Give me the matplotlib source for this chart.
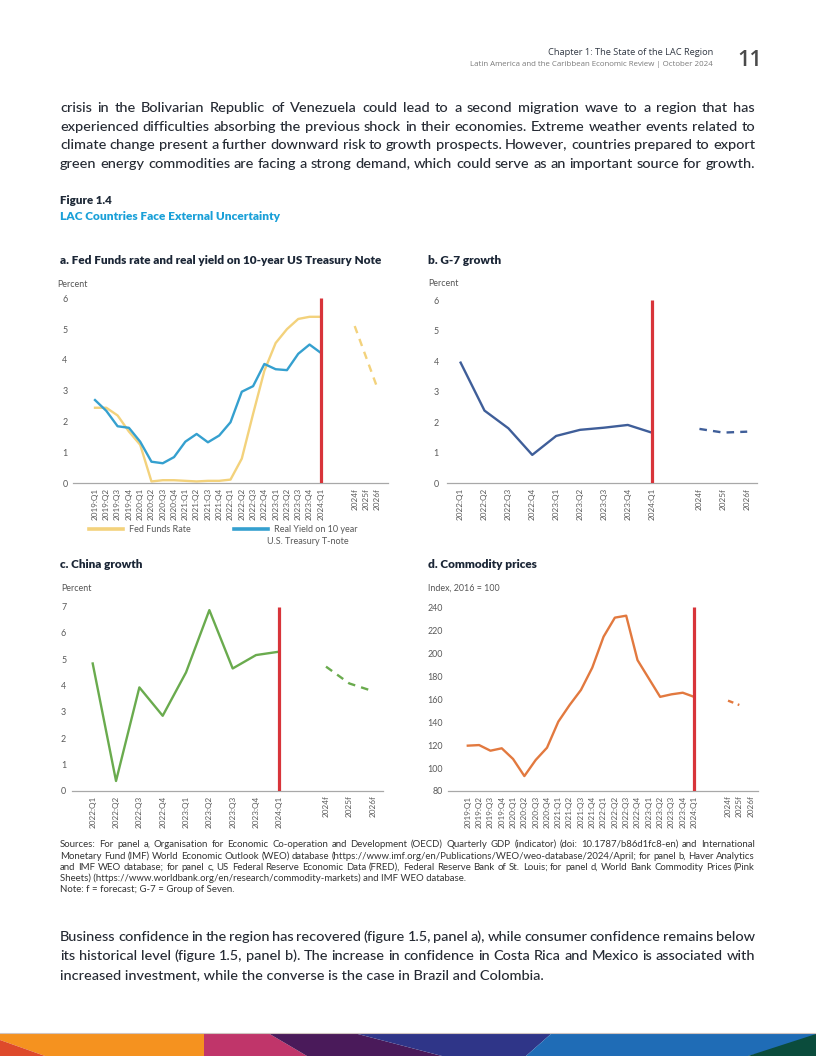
import math
import matplotlib
matplotlib.use('Agg')
import matplotlib.pyplot as plt
from matplotlib.patches import Polygon
from matplotlib.font_manager import FontProperties
import numpy as np

# ---------------- data ----------------
quarters_long = ["2019:Q1", "2019:Q2", "2019:Q3", "2019:Q4", "2020:Q1", "2020:Q2", "2020:Q3",
                 "2020:Q4", "2021:Q1", "2021:Q2", "2021:Q3", "2021:Q4", "2022:Q1", "2022:Q2",
                 "2022:Q3", "2022:Q4", "2023:Q1", "2023:Q2", "2023:Q3", "2023:Q4", "2024:Q1"]
quarters_short = ["2022:Q1", "2022:Q2", "2022:Q3", "2022:Q4", "2023:Q1", "2023:Q2", "2023:Q3",
                  "2023:Q4", "2024:Q1"]
forecast_years = ["2024f", "2025f", "2026f"]

fed_funds = [2.45, 2.45, 2.2, 1.68, 1.25, 0.06, 0.1, 0.1, 0.08, 0.06, 0.08, 0.08, 0.12, 0.8,
             2.25, 3.65, 4.55, 5.0, 5.33, 5.4, 5.4]
fed_funds_fc = [5.1, 4.1, 3.1]
real_yield = [2.7, 2.35, 1.85, 1.8, 1.35, 0.7, 0.65, 0.85, 1.35, 1.6, 1.33, 1.55, 1.98, 2.97,
              3.15, 3.87, 3.7, 3.67, 4.2, 4.5, 4.23]

g7_growth = [3.95, 2.38, 1.8, 0.93, 1.55, 1.75, 1.82, 1.91, 1.66]
g7_growth_fc = [1.78, 1.66, 1.69]

china_growth = [4.84, 0.37, 3.93, 2.85, 4.5, 6.87, 4.65, 5.16, 5.29]
china_growth_fc = [4.72, 4.08, 3.79]

commodity = [119.5, 120.0, 115.1, 117.2, 107.9, 93.0, 107.0, 117.7, 140.4, 154.9, 168.0, 187.4,
             214.4, 231.0, 232.7, 194.0, 178.0, 162.0, 164.2, 165.6, 162.0]
commodity_fc = [158.7, 154.9, np.nan]

# ---------------- page text ----------------
para_top = [
    "crisis in the Bolivarian Republic of Venezuela could lead to a second migration wave to a region that has",
    "experienced difficulties absorbing the previous shock in their economies. Extreme weather events related to",
    "climate change present a further downward risk to growth prospects. However, countries prepared to export",
    "green energy commodities are facing a strong demand, which could serve as an important source for growth.",
]
para_bottom = [
    "Business confidence in the region has recovered (figure 1.5, panel a), while consumer confidence remains below",
    "its historical level (figure 1.5, panel b). The increase in confidence in Costa Rica and Mexico is associated with",
    "increased investment, while the converse is the case in Brazil and Colombia.",
]
sources = [
    "Sources: For panel a, Organisation for Economic Co-operation and Development (OECD) Quarterly GDP (indicator) (doi: 10.1787/b86d1fc8-en)  and International",
    "Monetary Fund (IMF) World Economic Outlook (WEO) database (https://www.imf.org/en/Publications/WEO/weo-database/2024/April; for panel b, Haver Analytics",
    "and IMF WEO database; for panel c, US Federal Reserve Economic Data (FRED), Federal Reserve Bank of St. Louis; for panel d, World Bank Commodity Prices (Pink",
    "Sheets) (https://www.worldbank.org/en/research/commodity-markets) and IMF WEO database.",
    "Note: f = forecast; G-7 = Group of Seven.",
]

# ---------------- setup ----------------
W, H, DPI = 816, 1056, 100
FONT = 'Lato'
FAMILY = [FONT, 'DejaVu Sans']
plt.rcParams['font.family'] = FAMILY
fig = plt.figure(figsize=(W / DPI, H / DPI), dpi=DPI)
fig.patch.set_facecolor('white')
renderer = fig.canvas.get_renderer()

try:
    from matplotlib.backends.backend_agg import get_hinting_flag
except Exception:  # pragma: no cover
    get_hinting_flag = None


def fx(x):
    return x / W


def fy(y):
    return 1 - y / H


def width_of(t):
    return t.get_window_extent(renderer).width


def put(x, y, s, size, target_w=None, ha='left', va='center', **kw):
    t = fig.text(fx(x), fy(y), s, fontsize=size, ha=ha, va=va, **kw)
    if target_w:
        t.set_fontsize(size * target_w / width_of(t))
    return t


def fit_size(s, target_w, **kw):
    t = fig.text(0, 0, s, fontsize=10, **kw)
    w = width_of(t)
    t.remove()
    return 10 * target_w / w


def baseline_y(y, size):
    # y given as the centre of the x-height; convert to the baseline (pixels, y down)
    return y + 0.255 * size * DPI / 72


def snapped_baseline(word, target, size, weight):
    """Anchor so that the rasterised baseline of `word` lands exactly on pixel row `target`."""
    try:
        fp = FontProperties(family=FAMILY, size=size, weight=weight)
        font = renderer._prepare_font(fp)
        font.set_text(word, 0, flags=get_hinting_flag())
        d = font.get_descent() / 64.0
        _, hh = font.get_width_height()
        a = hh / 64.0 - d
        return target + math.floor(a + d) - math.floor(a) - d
    except Exception:
        return target


def justify(line, x0, x1, y, size, weight='normal', **kw):
    words = line.split()
    target = round(baseline_y(y, size))
    ts = []
    for w in words:
        yb = snapped_baseline(w, target, size, weight)
        ts.append(fig.text(0, fy(yb), w, fontsize=size, va='baseline', ha='left',
                           weight=weight, **kw))
    ws = [width_of(t) for t in ts]
    gap = (x1 - x0 - sum(ws)) / (len(words) - 1)
    x = x0
    for t, w in zip(ts, ws):
        t.set_x(fx(x))
        x += w + gap


def plain(line, x0, y, size, weight='normal', **kw):
    return fig.text(fx(x0), fy(baseline_y(y, size)), line, fontsize=size, va='baseline',
                    ha='left', weight=weight, **kw)


BODY = '#252a33'
# ---------------- header ----------------
put(713, 52.5, "Chapter 1: The State of the LAC Region", 7, target_w=166, ha='right',
    color='#333a45', family='Open Sans')
put(713, 65, "Latin America and the Caribbean Economic Review | October 2024", 6, target_w=246,
    ha='right', color='#7a7a7a', family='Open Sans')
put(737, 60, "11", 15.5, ha='left', color='#4a4a4a', family='Open Sans', weight='semibold')

# ---------------- paragraphs ----------------
body_size = 0.995 * fit_size(para_bottom[2], 486, weight='medium')
for i, line in enumerate(para_top):
    justify(line, 60, 755, 108 + i * 18.9, body_size, weight='medium', color=BODY)
for i, line in enumerate(para_bottom):
    if i < 2:
        justify(line, 60, 755, 937 + i * 19.2, body_size, weight='medium', color=BODY)
    else:
        plain(line, 60, 937 + i * 19.2, body_size, weight='medium', color=BODY)

put(60, 201, "Figure 1.4", 8, target_w=52, color='#1f2a38', weight='heavy')
put(60, 216.5, "LAC Countries Face External Uncertainty", 8, target_w=221, color='#1aa0d8',
    weight='heavy')

src_size = fit_size(sources[3], 410)
for i, line in enumerate(sources):
    y = 845 + i * 11.2
    if i < 3:
        justify(line, 60, 755, y, src_size, color='#333333')
    else:
        plain(line, 60, y, src_size, color='#333333')

# ---------------- panels ----------------
TITLE = '#1b2636'
title_a = "a. Fed Funds rate and real yield on 10-year US Treasury Note"
title_size = fit_size(title_a, 323, weight='heavy')
put(60.5, 261, title_a, title_size, color=TITLE, weight='heavy')
put(428, 261, "b. G-7 growth", title_size, color=TITLE, weight='heavy')
put(60.5, 565, "c. China growth", title_size, color=TITLE, weight='heavy')
put(428, 565, "d. Commodity prices", title_size, color=TITLE, weight='heavy')

unit_size = fit_size("Percent", 30.5)
put(57, 284.5, "Percent", unit_size, color='#555555')
put(428, 283.5, "Percent", unit_size, color='#555555')
put(61.5, 588.5, "Percent", unit_size, color='#555555')
put(427.5, 588.5, "Index, 2016 = 100", unit_size, color='#555555')

RED = '#d8343a'
GRAY = '#595959'


def make_axes(x0, x1, ytop, ybot, xlim, ylim, yticks, labels, ypad=4):
    ax = fig.add_axes([fx(x0), fy(ybot), (x1 - x0) / W, (ybot - ytop) / H])
    ax.set_xlim(*xlim)
    ax.set_ylim(*ylim)
    for s in ('top', 'right', 'left'):
        ax.spines[s].set_visible(False)
    ax.spines['bottom'].set_color('#a8a8a8')
    ax.spines['bottom'].set_linewidth(0.9)
    ax.set_yticks(yticks)
    ax.set_xticks(range(len(labels)))
    ax.set_xticklabels(labels, rotation=90)
    ax.tick_params(axis='both', length=0, colors=GRAY)
    ax.tick_params(axis='x', pad=3.3, labelsize=5.9)
    ax.tick_params(axis='y', pad=ypad, labelsize=6.4)
    ax.patch.set_alpha(0)
    return ax


labels_long = quarters_long + ["", ""] + forecast_years
labels_short = quarters_short + [""] + forecast_years
idx_long = np.arange(len(quarters_long))
fc_long = np.arange(len(quarters_long) + 2, len(quarters_long) + 2 + len(forecast_years))
idx_short = np.arange(len(quarters_short))
fc_short = np.arange(len(quarters_short) + 1, len(quarters_short) + 1 + len(forecast_years))

LW = 1.7
DASH = (0, (3.2, 2.6))

# panel a
YEL = '#f3d27c'
BLU = '#35a0cf'
axa = make_axes(73, 388, 298.3, 483.3, (-1.95, 25.95), (0, 6), range(0, 7), labels_long)
l_ff, = axa.plot(idx_long, fed_funds, color=YEL, lw=LW, solid_joinstyle='round')
axa.plot(fc_long, fed_funds_fc, color=YEL, lw=LW, linestyle=DASH)
l_ry, = axa.plot(idx_long, real_yield, color=BLU, lw=LW, solid_joinstyle='round')
axa.vlines(idx_long[-1], 0, 6, color=RED, lw=2.3, zorder=5)

leg_size = fit_size("Fed Funds Rate", 62)
leg_kw = dict(loc='center left', bbox_transform=fig.transFigure, frameon=False,
              fontsize=leg_size, handlelength=3.7, handletextpad=0.75, borderaxespad=0,
              borderpad=0, labelcolor=GRAY)
leg1 = axa.legend([l_ff], ["Fed Funds Rate"], bbox_to_anchor=(fx(89), fy(530)), **leg_kw)
leg1.get_lines()[0].set_linewidth(2.6)
axa.add_artist(leg1)
leg2 = axa.legend([l_ry], ["Real Yield on 10 year"], bbox_to_anchor=(fx(234), fy(530)), **leg_kw)
leg2.get_lines()[0].set_linewidth(2.6)
put(267, 541.7, "U.S. Treasury T-note", leg_size, color=GRAY)

# panel b
NAVY = '#3f5e99'
axb = make_axes(447, 757, 300, 483.3, (-0.57, 12.41), (0, 6), range(0, 7), labels_short, ypad=6)
axb.plot(idx_short, g7_growth, color=NAVY, lw=LW)
axb.plot(fc_short, g7_growth_fc, color=NAVY, lw=LW, linestyle=DASH)
axb.vlines(idx_short[-1], 0, 6, color=RED, lw=2.3, zorder=5)

# panel c
GRN = '#6aab4e'
axc = make_axes(71.7, 382.7, 606.7, 790.7, (-0.9, 12.43), (0, 7), range(0, 8), labels_short)
axc.plot(idx_short, china_growth, color=GRN, lw=LW)
axc.plot(fc_short, china_growth_fc, color=GRN, lw=LW, linestyle=DASH)
axc.vlines(idx_short[-1], 0, 7, color=RED, lw=2.3, zorder=5)

# panel d
ORG = '#e2793f'
axd = make_axes(448, 758, 607.3, 791, (-1.75, 25.65), (80, 240), range(80, 241, 20), labels_long)
axd.plot(idx_long, commodity, color=ORG, lw=LW)
axd.plot(fc_long, commodity_fc, color=ORG, lw=LW, linestyle=(0, (2.4, 2.0)))
axd.vlines(idx_long[-1], 80, 240, color=RED, lw=2.3, zorder=5)

# ---------------- footer band ----------------
def band(pts, color):
    fig.patches.append(Polygon([(fx(x), fy(y)) for x, y in pts], closed=True,
                               transform=fig.transFigure, facecolor=color, edgecolor='none'))


band([(0, 1033), (205, 1033), (205, 1056), (45, 1056), (0, 1040)], '#f5921f')
band([(0, 1040), (45, 1056), (0, 1056)], '#de4a2b')
band([(204, 1033), (268, 1033), (307, 1056), (204, 1056)], '#c0356a')
band([(268, 1033), (354, 1033), (442, 1056), (307, 1056)], '#4a1a5a')
band([(354, 1033), (552, 1033), (526, 1056), (442, 1056)], '#2f3588')
band([(552, 1033), (816, 1033), (816, 1040), (748, 1056), (526, 1056)], '#1f6cb6')
band([(748, 1056), (816, 1034), (816, 1056)], '#0b4c3c')
fig.add_artist(plt.Line2D([0, 1], [fy(1033), fy(1033)], transform=fig.transFigure,
                          color='#d0c4c0', lw=0.8))

fig.savefig('out.png', dpi=DPI, facecolor='white')
